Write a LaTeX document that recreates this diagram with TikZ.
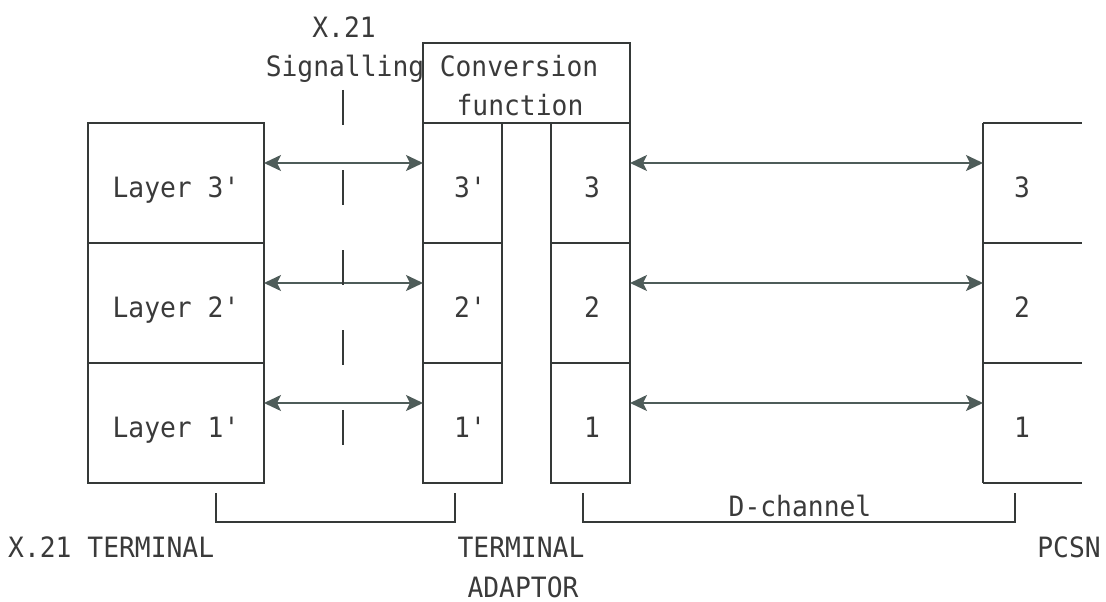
\documentclass[tikz,border=0pt]{standalone}
\usepackage{fontspec}
\setmonofont[FakeStretch=0.94]{DejaVu Sans Mono}
\usetikzlibrary{arrows.meta}
\definecolor{ln}{HTML}{353938}
\definecolor{ar}{HTML}{4E5C59}
\definecolor{tx}{HTML}{3A3A3A}
\begin{document}
\begin{tikzpicture}[x=1pt,y=-1pt,
  cell/.style={draw=ln, line width=2pt, minimum height=120pt, inner sep=0pt, outer sep=0pt},
  ghost/.style={minimum height=120pt, minimum width=99pt, inner sep=0pt, outer sep=0pt},
  lbl/.style={text=tx, font=\ttfamily\fontsize{28}{28}\selectfont, inner sep=0pt, anchor=base},
  tip/.tip={Stealth[length=17pt,width=16pt,inset=4pt]},
  link/.style={ar, line width=1.8pt, tip-tip},
  thin/.style={ln, line width=1.6pt}]
\useasboundingbox (0,0) rectangle (1106,602);
% left stack (X.21 terminal)
\node[cell, minimum width=176pt] (L3) at (176,183) {};
\node[cell, minimum width=176pt] (L2) at (176,303) {};
\node[cell, minimum width=176pt] (L1) at (176,423) {};
\node[lbl] (tL3) at (176,197) {Layer 3'};
\node[lbl] (tL2) at (176,317) {Layer 2'};
\node[lbl] (tL1) at (176,437) {Layer 1'};
% terminal adaptor
\node[cell, minimum width=207pt, minimum height=80pt] (CF) at (526.5,83) {};
\node[cell, minimum width=79pt] (A3p) at (462.5,183) {};
\node[cell, minimum width=79pt] (A2p) at (462.5,303) {};
\node[cell, minimum width=79pt] (A1p) at (462.5,423) {};
\node[cell, minimum width=79pt] (A3) at (590.5,183) {};
\node[cell, minimum width=79pt] (A2) at (590.5,303) {};
\node[cell, minimum width=79pt] (A1) at (590.5,423) {};
\node[lbl] (tA3p) at (470,197) {3'};
\node[lbl] (tA2p) at (470,317) {2'};
\node[lbl] (tA1p) at (470,437) {1'};
\node[lbl] (tA3) at (592,197) {3};
\node[lbl] (tA2) at (592,317) {2};
\node[lbl] (tA1) at (592,437) {1};
\node[lbl] (tCF1) at (519,77) {Conversion};
\node[lbl] (tCF2) at (520,115) {function};
% PCSN stack (open on the right)
\node[ghost] (P3) at (1032.5,183) {};
\node[ghost] (P2) at (1032.5,303) {};
\node[ghost] (P1) at (1032.5,423) {};
\draw[ln, line width=2pt] (P3.north west) -- (P1.south west);
\draw[ln, line width=2pt] (P3.north west) -- (P3.north east);
\draw[ln, line width=2pt] (P2.north west) -- (P2.north east);
\draw[ln, line width=2pt] (P1.north west) -- (P1.north east);
\draw[ln, line width=2pt] (P1.south west) -- (P1.south east);
\node[lbl] (tP3) at (1022,197) {3};
\node[lbl] (tP2) at (1022,317) {2};
\node[lbl] (tP1) at (1022,437) {1};
% peer arrows
\draw[link] ([yshift=20pt]L3.east) -- ([yshift=20pt]A3p.west);
\draw[link] ([yshift=20pt]L2.east) -- ([yshift=20pt]A2p.west);
\draw[link] ([yshift=20pt]L1.east) -- ([yshift=20pt]A1p.west);
\draw[link] ([yshift=20pt]A3.east) -- ([yshift=20pt]P3.west);
\draw[link] ([yshift=20pt]A2.east) -- ([yshift=20pt]P2.west);
\draw[link] ([yshift=20pt]A1.east) -- ([yshift=20pt]P1.west);
% X.21 signalling interface
\node[lbl] (tX) at (344,38) {X.21};
\node[lbl] (tS) at (345,77) {Signalling};
\coordinate (dTop) at (343,90);
\coordinate (dBot) at (343,445);
\draw[ln, line width=1.6pt, dash pattern=on 35pt off 45pt] (dTop) -- (dBot);
% brackets
\coordinate (b1a) at (216,493);
\coordinate (b1b) at (455,493);
\coordinate (b2a) at (583,493);
\coordinate (b2b) at (1015,493);
\draw[thin] (b1a) -- ++(0,29) -| (b1b);
\draw[thin] (b2a) -- ++(0,29) -| (b2b);
\node[lbl] (tD) at (800,516) {D-channel};
% bottom labels
\node[lbl, anchor=base west] (tXT) at (8,557) {X.21 TERMINAL};
\node[lbl] (tTA1) at (521,557) {TERMINAL};
\node[lbl] (tTA2) at (523,597) {ADAPTOR};
\node[lbl] (tPC) at (1069,557) {PCSN};
\end{tikzpicture}
\end{document}
